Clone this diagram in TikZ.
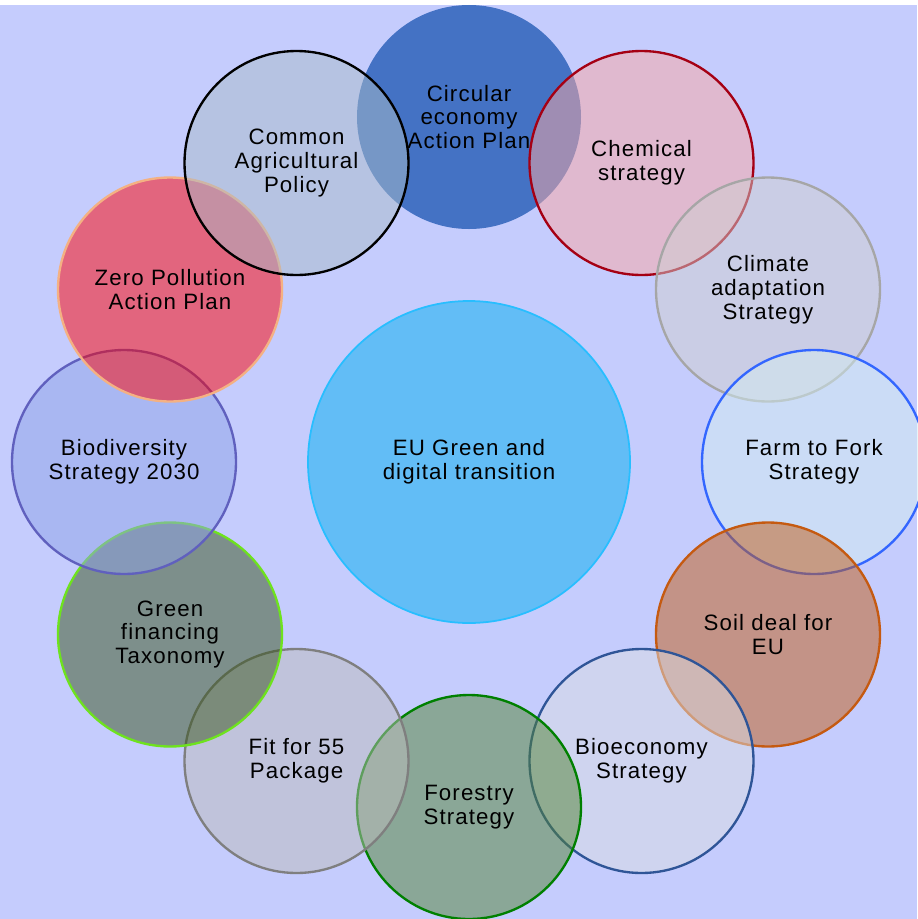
\documentclass[tikz,border=0pt]{standalone}
\usepackage{fontspec}
\setmainfont{Liberation Sans}[LetterSpace=5]
\usepackage{tikz}

\definecolor{bgcol}{RGB}{197,204,253}
\definecolor{circfill}{RGB}{68,114,196}
\definecolor{chemfill}{RGB}{251,168,163}
\definecolor{chemline}{RGB}{165,0,20}
\definecolor{climfill}{RGB}{207,206,207}
\definecolor{climline}{RGB}{166,166,166}
\definecolor{farmfill}{RGB}{210,236,240}
\definecolor{farmline}{RGB}{51,102,255}
\definecolor{soilfill}{RGB}{195,92,19}
\definecolor{soilline}{RGB}{197,90,17}
\definecolor{bioefill}{RGB}{217,220,227}
\definecolor{bioeline}{RGB}{47,85,151}
\definecolor{forefill}{RGB}{81,132,51}
\definecolor{foreline}{RGB}{0,128,0}
\definecolor{fitfill}{RGB}{189,188,187}
\definecolor{fitline}{RGB}{127,127,127}
\definecolor{gfinfill}{RGB}{55,84,27}
\definecolor{gfinline}{RGB}{110,226,30}
\definecolor{bdivfill}{RGB}{143,164,233}
\definecolor{bdivline}{RGB}{96,96,190}
\definecolor{zerofill}{RGB}{255,0,0}
\definecolor{zeroline}{RGB}{244,177,131}
\definecolor{capfill}{RGB}{169,188,201}
\definecolor{hubfill}{RGB}{0,176,240}
\definecolor{hubline}{RGB}{40,190,255}

\begin{document}
\begin{tikzpicture}[
  x=0.03cm, y=-0.03cm,
  bubble/.style = {circle, minimum size=6.72cm, inner sep=0pt, line width=2pt,
    fill opacity=0.5, text opacity=1, align=center,
    font=\fontsize{19}{20.4}\selectfont}
  ]
	\useasboundingbox (0,0) rectangle (917,919);
	\fill[bgcol] (0,5) rectangle (917,919);

	\coordinate (@hub) at (469,462);
	\coordinate (@circ) at (469,117);
	\coordinate (@chem) at (641.5,163);
	\coordinate (@clim) at (768,289.5);
	\coordinate (@farm) at (814,462);
	\coordinate (@soil) at (768,634.5);
	\coordinate (@bioe) at (641.5,761);
	\coordinate (@fore) at (469,807);
	\coordinate (@fit) at (296.5,761);
	\coordinate (@gfin) at (170,634.5);
	\coordinate (@bdiv) at (124,462);
	\coordinate (@zero) at (170,289.5);
	\coordinate (@cap) at (296.5,163);

	\node[bubble, minimum size=9.66cm, line width=1.5pt, fill=hubfill, draw=hubline] (hub) at (@hub) {EU Green and\\digital transition};

	% ring, drawn clockwise from the top
	\node[bubble, fill=circfill, fill opacity=1] (circ) at (@circ) {Circular\\economy\\Action Plan};
	\node[bubble, fill=chemfill, draw=chemline] (chem) at (@chem) {Chemical\\strategy};
	\node[bubble, fill=climfill, draw=climline] (clim) at (@clim) {Climate\\adaptation\\Strategy};
	\node[bubble, fill=farmfill, draw=farmline] (farm) at (@farm) {Farm to Fork\\Strategy};
	\node[bubble, fill=soilfill, draw=soilline] (soil) at (@soil) {Soil deal for\\EU};
	\node[bubble, fill=bioefill, draw=bioeline] (bioe) at (@bioe) {Bioeconomy\\Strategy};
	\node[bubble, fill=forefill, draw=foreline] (fore) at (@fore) {Forestry\\Strategy};
	\node[bubble, fill=fitfill, draw=fitline] (fit) at (@fit) {Fit for 55\\Package};
	\node[bubble, fill=gfinfill, draw=gfinline] (gfin) at (@gfin) {Green\\financing\\Taxonomy};
	\node[bubble, fill=bdivfill, draw=bdivline] (bdiv) at (@bdiv) {Biodiversity\\Strategy 2030};
	\node[bubble, fill=zerofill, draw=zeroline] (zero) at (@zero) {Zero Pollution\\Action Plan};
	\node[bubble, fill=capfill, draw=black] (cap) at (@cap) {Common\\Agricultural\\Policy};

\end{tikzpicture}
\end{document}
